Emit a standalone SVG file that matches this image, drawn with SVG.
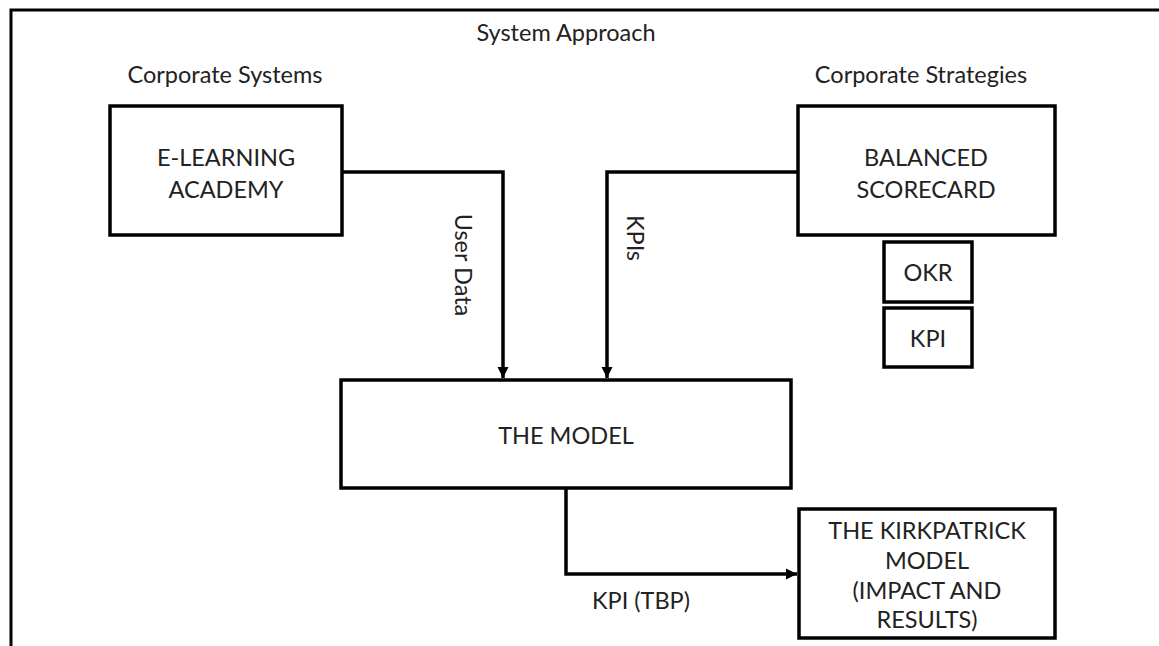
<svg xmlns="http://www.w3.org/2000/svg" width="1159" height="646" viewBox="0 0 1159 646">
<style>
.box{fill:#fff;stroke:#000;stroke-width:3.5}
.t{font-family:Lato,"Open Sans",sans-serif;font-size:23.5px;fill:#222;text-anchor:middle}
.c{fill:none;stroke:#000;stroke-width:3.5}
</style>
<defs>
<marker id="ah" viewBox="0 0 10 10" refX="10" refY="5" markerWidth="3.2" markerHeight="3.2" orient="auto" markerUnits="strokeWidth">
<path d="M0,0 L10,5 L0,10 z" fill="#000"/>
</marker>
</defs>
<rect width="1159" height="646" fill="#fff"/>
<g id="frame">
<path d="M11,646 L11,10 L1159,10" fill="none" stroke="#000" stroke-width="3"/>
</g>
<g id="labels">
<text class="t" x="566" y="41">System Approach</text>
<text class="t" x="225" y="83">Corporate Systems</text>
<text class="t" x="921" y="83">Corporate Strategies</text>
</g>
<g id="connectors">
<path class="c" d="M342,172 L503,172 L503,378" marker-end="url(#ah)"/>
<path class="c" d="M798,172 L607,172 L607,378" marker-end="url(#ah)"/>
<path class="c" d="M566,488 L566,574 L797,574" marker-end="url(#ah)"/>
<text class="t" transform="translate(455,265) rotate(90)">User Data</text>
<text class="t" transform="translate(627,238) rotate(90)">KPIs</text>
<text class="t" x="641" y="609">KPI (TBP)</text>
</g>
<g id="elearning">
<rect class="box" x="110" y="106" width="232" height="129"/>
<text class="t" x="226" y="166">E-LEARNING</text>
<text class="t" x="226" y="198">ACADEMY</text>
</g>
<g id="balanced">
<rect class="box" x="798" y="106" width="257" height="129"/>
<text class="t" x="926" y="166">BALANCED</text>
<text class="t" x="926" y="198">SCORECARD</text>
</g>
<g id="okr">
<rect class="box" x="884" y="242" width="88" height="60"/>
<text class="t" x="928" y="281">OKR</text>
</g>
<g id="kpi">
<rect class="box" x="884" y="308" width="88" height="59"/>
<text class="t" x="928" y="347">KPI</text>
</g>
<g id="model">
<rect class="box" x="341" y="380" width="450" height="108"/>
<text class="t" x="566" y="444">THE MODEL</text>
</g>
<g id="kirkpatrick">
<rect class="box" x="799" y="509" width="256" height="129"/>
<text class="t" x="927" y="539">THE KIRKPATRICK</text>
<text class="t" x="927" y="569">MODEL</text>
<text class="t" x="927" y="599">(IMPACT AND</text>
<text class="t" x="927" y="628">RESULTS)</text>
</g>
</svg>
